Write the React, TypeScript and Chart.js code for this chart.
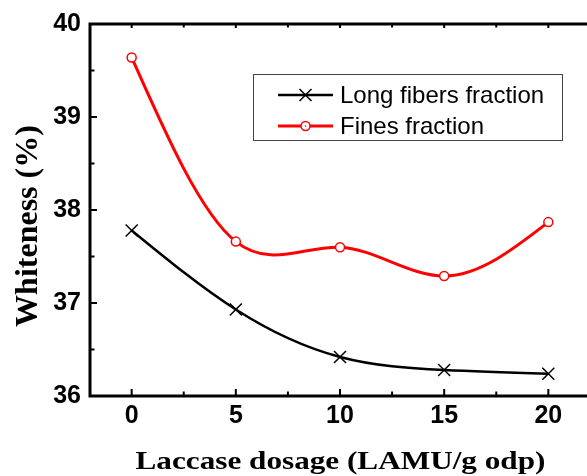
import React, { useEffect, useRef } from 'react';
import { Chart, registerables } from 'chart.js';

Chart.register(...registerables);

const xValues = [0, 5, 10, 15, 20];
const longFibers = [37.78, 36.93, 36.42, 36.28, 36.24];
const fines = [39.64, 37.66, 37.6, 37.29, 37.87];
const xTicks = [0, 5, 10, 15, 20];
const xMinorTicks = [2.5, 7.5, 12.5, 17.5];
const yTicks = [36, 37, 38, 39, 40];
const yMinorTicks = [36.5, 37.5, 38.5, 39.5];
const seriesNames = ['Long fibers fraction', 'Fines fraction'];
const xTitle = 'Laccase dosage (LAMU/g odp)';
const yTitle = 'Whiteness (%)';

const BLACK = '#000000';
const RED = '#ff0000';

// Natural cubic spline control points (pixel space) for the line element
function applyNaturalSpline(points: any[]) {
  const n = points.length;
  if (n < 3) return;
  const xs = points.map((p) => p.x);
  const ys = points.map((p) => p.y);
  const h: number[] = [];
  for (let i = 0; i < n - 1; i++) h.push(xs[i + 1] - xs[i]);
  // solve for second derivatives M with M0 = Mn-1 = 0
  const a: number[] = new Array(n).fill(0);
  const b: number[] = new Array(n).fill(1);
  const c: number[] = new Array(n).fill(0);
  const d: number[] = new Array(n).fill(0);
  for (let i = 1; i < n - 1; i++) {
    a[i] = h[i - 1];
    b[i] = 2 * (h[i - 1] + h[i]);
    c[i] = h[i];
    d[i] = 6 * ((ys[i + 1] - ys[i]) / h[i] - (ys[i] - ys[i - 1]) / h[i - 1]);
  }
  // Thomas algorithm
  const cp: number[] = new Array(n).fill(0);
  const dp: number[] = new Array(n).fill(0);
  cp[0] = c[0] / b[0];
  dp[0] = d[0] / b[0];
  for (let i = 1; i < n; i++) {
    const m = b[i] - a[i] * cp[i - 1];
    cp[i] = c[i] / m;
    dp[i] = (d[i] - a[i] * dp[i - 1]) / m;
  }
  const M: number[] = new Array(n).fill(0);
  M[n - 1] = dp[n - 1];
  for (let i = n - 2; i >= 0; i--) M[i] = dp[i] - cp[i] * M[i + 1];
  // derivatives
  const slope: number[] = new Array(n).fill(0);
  for (let i = 0; i < n - 1; i++) {
    slope[i] = (ys[i + 1] - ys[i]) / h[i] - (h[i] * (2 * M[i] + M[i + 1])) / 6;
  }
  slope[n - 1] = (ys[n - 1] - ys[n - 2]) / h[n - 2] + (h[n - 2] * (M[n - 2] + 2 * M[n - 1])) / 6;
  for (let i = 0; i < n; i++) {
    const p = points[i];
    if (i > 0) {
      const hh = h[i - 1] / 3;
      p.cp1x = xs[i] - hh;
      p.cp1y = ys[i] - slope[i] * hh;
    } else {
      p.cp1x = xs[i];
      p.cp1y = ys[i];
    }
    if (i < n - 1) {
      const hh = h[i] / 3;
      p.cp2x = xs[i] + hh;
      p.cp2y = ys[i] + slope[i] * hh;
    } else {
      p.cp2x = xs[i];
      p.cp2y = ys[i];
    }
  }
}

export default function App() {
  const ref = useRef<HTMLCanvasElement>(null);

  useEffect(() => {
    const canvas = ref.current;
    if (!canvas) return;

    const splinePlugin = {
      id: 'splinePlugin',
      beforeDatasetDraw(chart: any, args: any) {
        const meta = args.meta;
        const line = meta.dataset;
        if (!line || !meta.controller.options || meta.controller.getDataset().showLine === false) return;
        applyNaturalSpline(meta.data);
        line._pointsUpdated = true;
        line._path = undefined;
      },
    };

    const framePlugin = {
      id: 'framePlugin',
      afterDatasetsDraw(chart: any) {
        const ctx = chart.ctx;
        const { left, right, top, bottom } = chart.chartArea;
        const xs = chart.scales.x;
        const ys = chart.scales.y;
        ctx.save();
        ctx.strokeStyle = BLACK;
        ctx.lineWidth = 2;
        ctx.beginPath();
        yTicks.forEach((v) => {
          const p = ys.getPixelForValue(v);
          ctx.moveTo(left, p);
          ctx.lineTo(left + 7, p);
        });
        yMinorTicks.forEach((v) => {
          const p = ys.getPixelForValue(v);
          ctx.moveTo(left, p);
          ctx.lineTo(left + 4.5, p);
        });
        xTicks.forEach((v) => {
          const p = xs.getPixelForValue(v);
          ctx.moveTo(p, bottom);
          ctx.lineTo(p, bottom - 7);
          ctx.moveTo(p, top);
          ctx.lineTo(p, top + 4);
        });
        xMinorTicks.forEach((v) => {
          const p = xs.getPixelForValue(v);
          ctx.moveTo(p, bottom);
          ctx.lineTo(p, bottom - 4.5);
          ctx.moveTo(p, top);
          ctx.lineTo(p, top + 3.5);
        });
        ctx.stroke();
        ctx.lineWidth = 3;
        ctx.strokeRect(left, top, right - left, bottom - top);
        ctx.restore();
      },
      afterDraw(chart: any) {
        const ctx = chart.ctx;
        ctx.save();
        ctx.fillStyle = BLACK;
        // x title
        ctx.save();
        ctx.translate(340.5, 469);
        ctx.scale(1.2, 1);
        ctx.font = 'bold 26px "Liberation Serif", "Times New Roman", serif';
        ctx.textAlign = 'center';
        ctx.textBaseline = 'alphabetic';
        ctx.fillText(xTitle, 0, 0);
        ctx.restore();
        // y title
        ctx.save();
        ctx.translate(37, 226);
        ctx.rotate(-Math.PI / 2);
        ctx.font = 'bold 32px "Liberation Serif", "Times New Roman", serif';
        ctx.textAlign = 'center';
        ctx.textBaseline = 'alphabetic';
        ctx.fillText(yTitle, 0, 0);
        ctx.restore();

        // legend
        const bx = 253;
        const by = 74.5;
        const bw = 309;
        const bh = 66;
        ctx.fillStyle = '#ffffff';
        ctx.fillRect(bx, by, bw, bh);
        ctx.strokeStyle = '#444444';
        ctx.lineWidth = 1;
        ctx.strokeRect(bx + 0.5, by, bw, bh);
        const rows = [95, 126];
        const colors = [BLACK, RED];
        rows.forEach((ry, i) => {
          ctx.strokeStyle = colors[i];
          ctx.lineWidth = i === 0 ? 2.5 : 3;
          ctx.beginPath();
          ctx.moveTo(278, ry);
          ctx.lineTo(333, ry);
          ctx.stroke();
          const cx = 305.5;
          if (i === 0) {
            ctx.lineWidth = 1.5;
            ctx.beginPath();
            const d = 6;
            ctx.moveTo(cx - d, ry - d);
            ctx.lineTo(cx + d, ry + d);
            ctx.moveTo(cx - d, ry + d);
            ctx.lineTo(cx + d, ry - d);
            ctx.stroke();
          } else {
            ctx.lineWidth = 1.5;
            ctx.fillStyle = '#ffffff';
            ctx.beginPath();
            ctx.arc(cx, ry, 4.5, 0, Math.PI * 2);
            ctx.fill();
            ctx.stroke();
            ctx.fillStyle = RED;
            ctx.beginPath();
            ctx.arc(cx, ry, 0.8, 0, Math.PI * 2);
            ctx.fill();
          }
          ctx.fillStyle = BLACK;
          ctx.font = '24px "Liberation Sans", Arial, sans-serif';
          ctx.textAlign = 'left';
          ctx.textBaseline = 'middle';
          ctx.fillText(seriesNames[i], 340, ry + 1);
        });
        ctx.restore();
      },
    };

    const tickFont = { family: '"Liberation Sans", Arial, sans-serif', size: 25, weight: 'bold' as const };

    const chart = new Chart(canvas, {
      type: 'line',
      data: {
        datasets: [
          {
            label: seriesNames[0],
            data: xValues.map((x, i) => ({ x, y: longFibers[i] })),
            borderColor: BLACK,
            borderWidth: 2.5,
            tension: 0.4,
            pointStyle: 'crossRot',
            pointRadius: 8.5,
            pointBorderWidth: 1.5,
            pointBorderColor: BLACK,
            pointBackgroundColor: BLACK,
          },
          {
            label: seriesNames[1],
            data: xValues.map((x, i) => ({ x, y: fines[i] })),
            borderColor: RED,
            borderWidth: 3,
            tension: 0.4,
            pointStyle: 'circle',
            pointRadius: 4.5,
            pointBorderWidth: 1.5,
            pointBorderColor: RED,
            pointBackgroundColor: '#ffffff',
          },
          {
            label: seriesNames[1] + ' centre',
            data: xValues.map((x, i) => ({ x, y: fines[i] })),
            showLine: false,
            pointStyle: 'circle',
            pointRadius: 0.8,
            pointBorderWidth: 0,
            pointBackgroundColor: RED,
            pointBorderColor: RED,
          },
        ],
      },
      options: {
        responsive: false,
        animation: false,
        devicePixelRatio: 1,
        layout: { padding: { top: 23, right: 9, left: 0, bottom: 0 } },
        plugins: { legend: { display: false }, tooltip: { enabled: false } },
        scales: {
          x: {
            type: 'linear',
            min: -2,
            max: 22,
            grid: { display: false, drawTicks: false },
            border: { display: false },
            ticks: { font: tickFont, color: BLACK, padding: 5, maxRotation: 0 },
            afterBuildTicks: (s: any) => {
              s.ticks = xTicks.map((v) => ({ value: v }));
            },
            afterFit: (s: any) => {
              s.height = 80;
            },
          },
          y: {
            type: 'linear',
            min: 36,
            max: 40,
            grid: { display: false, drawTicks: false },
            border: { display: false },
            ticks: { font: tickFont, color: BLACK, padding: 9 },
            afterBuildTicks: (s: any) => {
              s.ticks = yTicks.map((v) => ({ value: v }));
            },
            afterFit: (s: any) => {
              s.width = 90;
            },
          },
        },
      },
      plugins: [splinePlugin, framePlugin],
    });

    return () => chart.destroy();
  }, []);

  return (
    <div
      style={{
        position: 'fixed',
        left: 0,
        top: 0,
        width: 587,
        height: 476,
        overflow: 'hidden',
        background: '#ffffff',
      }}
    >
      <canvas ref={ref} width={600} height={476} style={{ display: 'block' }} />
    </div>
  );
}
